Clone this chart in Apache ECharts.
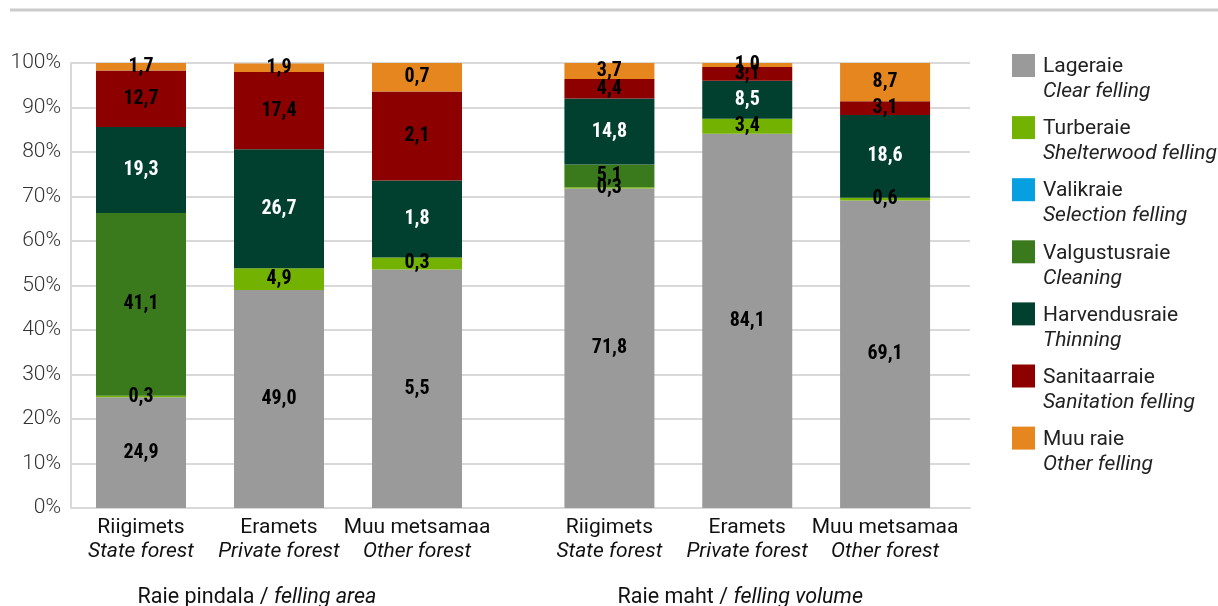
<!DOCTYPE html>
<html>
<head>
<meta charset="utf-8">
<script src="https://cdn.jsdelivr.net/npm/echarts@6/dist/echarts.min.js"></script>
<style>
html,body{margin:0;padding:0;background:#fff;}
#chart{width:1218px;height:606px;}
</style>
</head>
<body>
<div id="chart"></div>
<script>
// ---- data ----
const categoriesEt = ['Riigimets', 'Eramets', 'Muu metsamaa'];
const categoriesEn = ['State forest', 'Private forest', 'Other forest'];
const groupNames = ['Raie pindala / ', 'Raie maht / '];
const groupNamesEn = ['felling area', 'felling volume'];
const typeNamesEt = ['Lageraie', 'Turberaie', 'Valikraie', 'Valgustusraie', 'Harvendusraie', 'Sanitaarraie', 'Muu raie'];
const typeNamesEn = ['Clear felling', 'Shelterwood felling', 'Selection felling', 'Cleaning', 'Thinning', 'Sanitation felling', 'Other felling'];
const yTicks = [0, 10, 20, 30, 40, 50, 60, 70, 80, 90, 100];

// felling area (bar heights, %)
const areaLageraie      = [24.9, 49.0, 53.6];
const areaTurberaie     = [0.3, 4.9, 2.7];
const areaValikraie     = [0, 0, 0];
const areaValgustusraie = [41.1, 0, 0];
const areaHarvendusraie = [19.3, 26.7, 17.3];
const areaSanitaarraie  = [12.7, 17.4, 20.0];
const areaMuuRaie       = [1.7, 1.9, 6.4];
// felling area (printed labels)
const areaLabLageraie      = ['24,9', '49,0', '5,5'];
const areaLabTurberaie     = ['0,3', '4,9', '0,3'];
const areaLabValikraie     = ['', '', ''];
const areaLabValgustusraie = ['41,1', '', ''];
const areaLabHarvendusraie = ['19,3', '26,7', '1,8'];
const areaLabSanitaarraie  = ['12,7', '17,4', '2,1'];
const areaLabMuuRaie       = ['1,7', '1,9', '0,7'];

// felling volume (bar heights, %)
const volLageraie      = [71.8, 84.1, 69.1];
const volTurberaie     = [0.3, 3.4, 0.6];
const volValikraie     = [0, 0, 0];
const volValgustusraie = [5.1, 0, 0];
const volHarvendusraie = [14.8, 8.5, 18.6];
const volSanitaarraie  = [4.4, 3.1, 3.1];
const volMuuRaie       = [3.6, 0.9, 8.6];
// felling volume (printed labels)
const volLabLageraie      = ['71,8', '84,1', '69,1'];
const volLabTurberaie     = ['0,3', '3,4', '0,6'];
const volLabValikraie     = ['', '', ''];
const volLabValgustusraie = ['5,1', '', ''];
const volLabHarvendusraie = ['14,8', '8,5', '18,6'];
const volLabSanitaarraie  = ['4,4', '3,1', '3,1'];
const volLabMuuRaie       = ['3,7', '1,0', '8,7'];

// ---- styles ----
const colors = ['#9a9a9a', '#74b201', '#06a0e0', '#3a7a1d', '#01402f', '#8c0000', '#e5861f'];
const labelColors = ['#000', '#000', '#000', '#000', '#fff', '#000', '#000'];
const LABEL_FONT = '"Roboto Condensed", "Liberation Sans Narrow", Roboto, sans-serif';
const FONT = 'Roboto, "Noto Sans", sans-serif';

const areaValues = [areaLageraie, areaTurberaie, areaValikraie, areaValgustusraie, areaHarvendusraie, areaSanitaarraie, areaMuuRaie];
const areaLabels = [areaLabLageraie, areaLabTurberaie, areaLabValikraie, areaLabValgustusraie, areaLabHarvendusraie, areaLabSanitaarraie, areaLabMuuRaie];
const volValues = [volLageraie, volTurberaie, volValikraie, volValgustusraie, volHarvendusraie, volSanitaarraie, volMuuRaie];
const volLabels = [volLabLageraie, volLabTurberaie, volLabValikraie, volLabValgustusraie, volLabHarvendusraie, volLabSanitaarraie, volLabMuuRaie];

const series = [];
[[areaValues, areaLabels], [volValues, volLabels]].forEach(([vals, labs], g) => {
  vals.forEach((arr, i) => {
    series.push({
      name: typeNamesEt[i],
      type: 'bar',
      stack: 'g' + g,
      xAxisIndex: g + 1,
      yAxisIndex: g + 1,
      barWidth: 90,
      data: arr,
      itemStyle: { color: colors[i] },
      emphasis: { disabled: true },
      label: {
        show: true,
        position: 'inside',
        fontFamily: LABEL_FONT,
        fontWeight: 'bold',
        fontSize: 20,
        color: labelColors[i],
        textBorderWidth: 0,
        formatter: p => labs[i][p.dataIndex]
      }
    });
  });
});

const catAxisLabel = {
  interval: 0,
  margin: 8,
  formatter: (v, idx) => '{a|' + v + '}\n{b|' + categoriesEn[idx] + '}',
  rich: {
    a: { fontFamily: FONT, fontSize: 21, lineHeight: 24, color: '#111' },
    b: { fontFamily: FONT, fontSize: 21, lineHeight: 24, color: '#111', fontStyle: 'italic' }
  }
};

function groupXAxis(g, padRight) {
  return {
    type: 'category',
    gridIndex: g + 1,
    data: categoriesEt,
    axisLine: { show: false },
    axisTick: { show: false },
    axisLabel: catAxisLabel,
    name: '{a|' + groupNames[g] + '}{b|' + groupNamesEn[g] + '}',
    nameLocation: 'middle',
    nameGap: 79,
    nameTextStyle: {
      padding: [0, padRight, 0, 0],
      rich: {
        a: { fontFamily: FONT, fontSize: 21.5, color: '#111' },
        b: { fontFamily: FONT, fontSize: 21.5, color: '#111', fontStyle: 'italic' }
      }
    }
  };
}

const hiddenY = g => ({
  type: 'value', gridIndex: g, min: 0, max: 100, interval: 10,
  show: false, splitLine: { show: false }
});

const option = {
  animation: false,
  backgroundColor: '#fff',
  graphic: [{
    type: 'line',
    shape: { x1: 10, y1: 10, x2: 1218, y2: 10 },
    style: { stroke: '#cccccc', lineWidth: 3 },
    silent: true
  }],
  grid: [
    { left: 71, right: 248, top: 63, bottom: 98, containLabel: false, outerBoundsMode: 'none' },
    { left: 72, width: 414, top: 63, bottom: 98, containLabel: false, outerBoundsMode: 'none' },
    { left: 540.5, width: 413.5, top: 63, bottom: 98, containLabel: false, outerBoundsMode: 'none' }
  ],
  xAxis: [
    {
      type: 'category', gridIndex: 0, data: [''],
      axisLine: { show: true, lineStyle: { color: '#d9d9d9', width: 2 } },
      axisTick: { show: false }, axisLabel: { show: false }
    },
    groupXAxis(0, 44),
    groupXAxis(1, 14)
  ],
  yAxis: [
    {
      type: 'value', gridIndex: 0, min: yTicks[0], max: yTicks[yTicks.length - 1], interval: 10,
      axisLine: { show: true, lineStyle: { color: '#d9d9d9', width: 2 } },
      axisTick: { show: false },
      axisLabel: { formatter: '{value}%', fontFamily: FONT, fontSize: 21, fontWeight: 300, color: '#333', margin: 10 },
      splitLine: { show: true, lineStyle: { color: '#d9d9d9', width: 2 } }
    },
    hiddenY(1),
    hiddenY(2)
  ],
  legend: {
    orient: 'vertical',
    left: 1007,
    top: 49,
    itemWidth: 23,
    itemHeight: 23,
    itemGap: 13.6,
    icon: 'rect',
    selectedMode: false,
    data: typeNamesEt,
    formatter: name => '{a|' + name + '}\n{b|' + typeNamesEn[typeNamesEt.indexOf(name)] + '}',
    textStyle: {
      padding: [28, 0, 0, 3],
      rich: {
        a: { fontFamily: FONT, fontSize: 21, lineHeight: 25, color: '#222' },
        b: { fontFamily: FONT, fontSize: 21, lineHeight: 25, color: '#222', fontStyle: 'italic' }
      }
    }
  },
  series: series
};

const chart = echarts.init(document.getElementById('chart'), null, { renderer: 'canvas' });
chart.setOption(option);
</script>
</body>
</html>
